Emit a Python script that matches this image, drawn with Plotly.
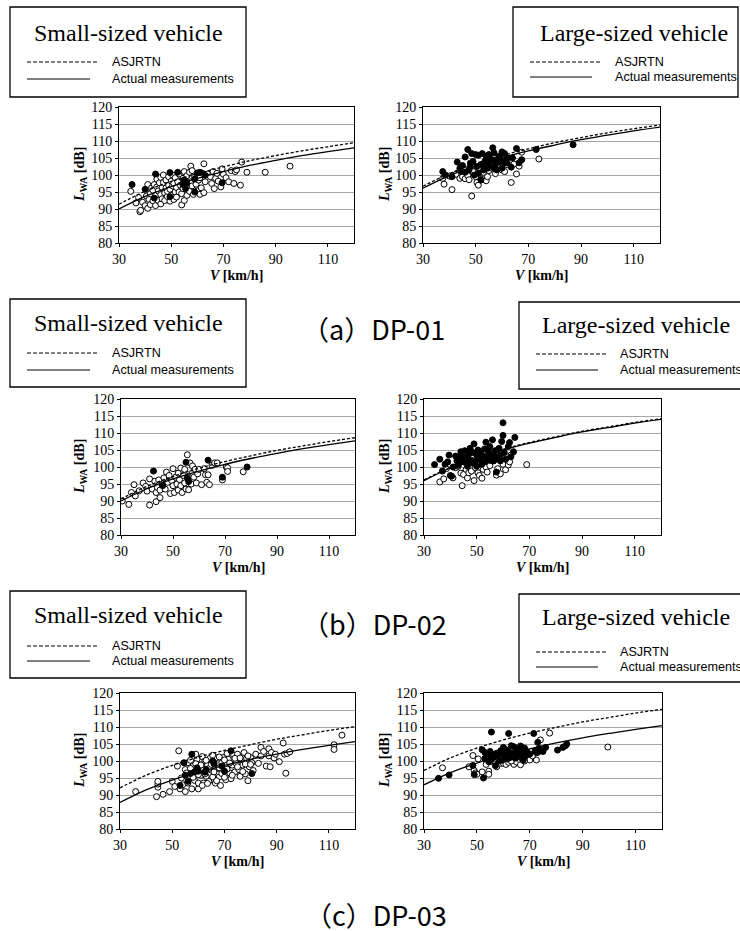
import plotly.graph_objects as go

# ---------------- data ----------------
V_curve = [30, 40, 50, 60, 70, 80, 90, 100, 110, 120]

dp01_small_asj = [91.4, 95.2, 98.1, 100.4, 102.4, 104.2, 105.7, 107.1, 108.3, 109.5]
dp01_small_meas = [90.0, 93.7, 96.6, 99.0, 101.0, 102.8, 104.3, 105.7, 106.9, 108.0]
dp01_large_asj = [96.7, 100.4, 103.4, 105.7, 107.7, 109.5, 111.0, 112.4, 113.6, 114.7]
dp01_large_meas = [96.1, 99.8, 102.7, 105.1, 107.1, 108.8, 110.4, 111.7, 113.0, 114.1]
dp02_small_asj = [90.6, 94.3, 97.2, 99.6, 101.6, 103.3, 104.9, 106.2, 107.5, 108.6]
dp02_small_meas = [90.0, 93.6, 96.5, 98.8, 100.8, 102.5, 104.0, 105.4, 106.6, 107.7]
dp02_large_asj = [96.2, 99.9, 102.8, 105.2, 107.2, 108.9, 110.5, 111.8, 113.1, 114.2]
dp02_large_meas = [96.0, 99.7, 102.6, 105.0, 107.0, 108.7, 110.3, 111.6, 112.9, 114.0]
dp03_small_asj = [92.1, 95.8, 98.7, 101.1, 103.1, 104.8, 106.4, 107.7, 109.0, 110.1]
dp03_small_meas = [87.8, 91.5, 94.4, 96.7, 98.7, 100.5, 102.0, 103.4, 104.6, 105.7]
dp03_large_asj = [97.2, 100.9, 103.8, 106.2, 108.2, 109.9, 111.5, 112.8, 114.1, 115.2]
dp03_large_meas = [93.0, 96.6, 99.4, 101.7, 103.6, 105.3, 106.8, 108.1, 109.3, 110.4]

dp01_small_open = [(34.5,95.2),(36.5,91.8),(37.5,93.4),(38,89.2),(38.3,89.6),(39,92),(40,91),(40.5,93.8),(41,97.2),(41,90.2),
    (41.5,92.8),(42,94.5),(42,91.3),(42.5,96.2),(43,95.5),(43,92.4),(43.5,97.2),(44,91),(44,94),(44.5,96.5),(44.5,98.8),
    (45,92.5),(45,95.3),(45.5,97.7),(46,91.5),(46,94.2),(46,99.3),(46.5,96.3),(46.5,93),(47,97.8),(47,100),(47.5,94.7),
    (47.5,92.5),(48,96.2),(48,98.5),(48.5,93.7),(48.5,95.2),(49,97),(49,99.5),(49.5,92.3),(49.5,95.8),(50,98.2),(50,94),
    (50.5,100),(50.5,96.8),(51,92.8),(51,97.5),(51.5,95),(51.5,99.2),(52,96.3),(52,93.5),(52.5,98),(53,95),(53,100.3),
    (53.5,97),(54,91.2),(54,94.5),(54.5,99),(54.5,96),(55,92.5),(55,101),(55.5,98.2),(56,94),(56,99.8),(56.5,96.5),
    (57,100.8),(57,95.2),(57.5,102.6),(57.5,98),(58,96.8),(58,101.3),(58.5,94.3),(59,99.5),(59.5,97.3),(60,100),(60,95.3),
    (60.5,98.5),(61,94.3),(61,99.2),(61.5,96.2),(62,100.5),(62.5,103.3),(62.5,94.8),(63,98),(64,100.3),(65,99.5),(65.5,97.5),
    (66,101),(66.5,96),(67,99),(67.5,100.5),(68,98.2),(69,96.5),(69.5,101.8),(70,100.2),(71,99.2),(72,98),(73,101.3),
    (74,97.5),(74.5,101),(75,101.5),(76.5,97),(77,103.8),(79,100.8),(86,100.8),(95.5,102.6)]
dp01_small_fill = [(35,97.2),(40,95.8),(43.5,93.2),(44,100.3),(49.5,100.7),(49.5,93.6),(52.5,100.8),(54.5,97.2),(55,98.5),
    (55.5,96),(56,97.6),(59,98.8),(59,95),(60,100.6),(61,100.8),(63,99.9),(69.5,97.7)]

dp01_large_open = [(37.5,99),(38,97.3),(40,99.7),(41,95.7),(42.5,100.2),(44,99),(45,99.5),(46,98.9),(47,99.8),(47.5,98.6),
    (48.5,93.8),(49,101),(50,99.5),(50.5,97.8),(51,97),(51.5,100.5),(52.5,98.7),(53,100.8),(54,98.3),(54.5,99.5),(55,101.3),
    (56,102),(57,104.2),(57.5,100.4),(59,102.8),(60,101.5),(61,101),(61.5,103.3),(62,103),(63.5,97.8),(64.5,103.2),
    (65.5,100.3),(66.5,102.6),(67.5,106.7),(74,104.7)]
dp01_large_fill = [(37.5,101),(38.5,100),(41,99.5),(43,103.8),(44,102),(45,102.8),(46,105.3),(47,107.5),(47.5,101.5),
    (48,103.5),(48.5,106.3),(49,104),(49.5,100),(50,106),(50.5,102.5),(51,105.8),(52,98.5),(52,103),(52.5,106.3),(53,101.5),
    (53.5,104),(54,105.5),(55,103),(55,106),(56,104.5),(56.5,108),(57,102),(57,106.5),(58,104.5),(58,101.5),(59,105.5),
    (60,106.8),(60.5,104),(61,106.3),(62,105),(63.5,102.3),(64,105),(65.5,107.8),(66.5,103.6),(67.5,104.5),(73,107.5),
    (87,108.9),(44.5,101),(46,100.8),(48,102.5),(51,100.5),(53,103.3),(54.5,102),(55.5,104.8),(57.5,103),(59,103.8),
    (60,102),(62,103.5)]

dp02_small_open = [(30.5,90),(33,89),(34,92.5),(35,94.8),(35.5,91.5),(37,93),(38.5,95.3),(39.5,94.3),(40,92.9),(41,88.8),
    (41,96.5),(42,93.5),(43,95.8),(43.5,92.5),(43.5,89.8),(44,94),(44.5,96.2),(45,91),(45,93.2),(46,95),(46.5,96.8),(47,93.5),
    (47.5,98.5),(48,95.5),(48.5,97.5),(49,92.2),(49.5,96),(50,99.5),(50,94.5),(50.5,92.5),(51,97),(51.5,95),(52,98.2),
    (52,93.2),(52.5,96.3),(53,99.7),(53,94.5),(53.5,92.5),(54,97.5),(54.5,95.3),(54.5,99.3),(55,93.5),(55.5,103.6),(56,97.3),
    (56,93.3),(56.5,101.2),(57,95),(57.5,98.3),(57.5,100.3),(58,97),(58.5,99.3),(59,95.3),(59.5,98),(60,99.3),(61,94.8),
    (62,99.5),(62.5,97.7),(63,95.5),(63.5,97.7),(64,94.8),(65,100.5),(66,101.2),(67,101.2),(69,96.2),(70.5,100),(71,99.8),
    (71,98.7),(77,98.6)]
dp02_small_fill = [(42.5,98.8),(46,94.5),(55,101.4),(55.5,96.8),(56,95.7),(63.5,102),(69,97),(78.5,100)]

dp02_large_open = [(36,95.6),(37.5,96.5),(38.5,99.5),(41,96.8),(42,99.8),(43,100.2),(44,98.2),(44.5,94.5),(45,97.8),
    (46,99.3),(46.5,96.8),(47,98.3),(47.5,100),(48,98.8),(49,96),(49.5,99.8),(50.5,98.3),(51,97.5),(52,96.7),(52.5,99.3),
    (53.5,100),(54,98.5),(55,100.4),(56,101.8),(57.5,97.6),(58,99.5),(59,98),(60,100.8),(61,99.2),(62,100.6),(62.5,101.5),
    (63,103.5),(69,100.7)]
dp02_large_fill = [(34,100.7),(36,102.3),(37,98.8),(38,100.8),(39,101.5),(39.5,103.5),(40,97.5),(40.5,97.3),(41,100),
    (42,103.2),(42.5,101.8),(43,100.5),(43.5,102.8),(44,104.5),(44.5,103),(45,101.5),(45.5,104.8),(46,102.8),(46.5,100.2),
    (47,103.8),(47.5,105.5),(48,102),(48.5,104.3),(49,106.8),(49.5,101.5),(50,103.5),(50.5,105),(51,102.3),(51.5,104),
    (52,100.8),(52.5,103.2),(53,105.3),(53.5,107.3),(54,102.5),(54.5,104.5),(55,106),(55.5,103.3),(56,108),(56.5,101.8),
    (57,104.8),(57.5,98.5),(58,102.6),(58.5,105.5),(59,103.5),(59.5,107.5),(60,113),(60,109.3),(60.5,104.2),(61,102.3),
    (62,106),(62.5,107.2),(63,103),(64,104.5),(64.5,108.7),(48,101.2),(50,100.2),(53,101.5),(55,102),(57,103),(59,101.8),
    (46,101.5),(44,102.3)]

dp03_small_open = [(36,91),(44,89.5),(44.5,92.3),(44.5,93.2),(44.5,94),(46.5,90.2),(49,91),(50,94),(51,92.5),(52,98.5),
    (52.5,103),(53,91.8),(53.5,95),(54,93),(55,91),(55,97.5),(56,99.5),(56,93.5),(57,95.5),(57.5,91.8),(58,98.5),(58.5,94.3),
    (59,96.5),(59.5,100.5),(60,91.8),(60,93.5),(60.5,98),(61,95.8),(61.5,101.3),(62,97.5),(62,93.5),(62.5,100),(63,95.5),
    (63.5,98.8),(64,94),(64.5,100.8),(65,97.3),(65.5,95.3),(66,99.5),(66.5,93.5),(67,101),(67.5,97.8),(68,95.3),(68.5,92.8),
    (69,99.5),(69.5,101),(70,97.3),(70.5,94.5),(71,99),(71.5,100.5),(72,96.5),(72.5,94.8),(73,98.8),(73.5,101.8),(74,96.8),
    (74.5,99.3),(75,102),(75.5,97.5),(76,95.5),(76.5,100.3),(77,98.8),(77.5,102.5),(78,96.2),(78.5,100.8),(79,94.2),
    (79.5,98.3),(80,101),(80.5,99.5),(81,97.2),(82,102),(83,99.3),(84,104),(84,101.5),(85,102.8),(86,98.5),(87,101.5),
    (87,103.6),(87.5,98.3),(88,102.5),(89,100.9),(89.5,102),(91,99.8),(92.5,105.3),(93,102),(93.5,96.4),(94,102.2),
    (95,102.7),(112,104.8),(112,103.4),(115,107.6),(55.5,96.5),(57,97.8),(58,95.2),(59,99.2),(60,96),(61,98.8),(62.5,96.2),
    (63,100.2),(64,97.8),(65,99),(66,96.8),(67,94.2),(68,98),(69,96.3),(70,100.3),(71,97.6),(72,99.4),(73,95.8),(74,100.8),
    (75,98.3),(76,100.9),(77,96.9),(78,99.1),(79,101.5),(80,99),(57,100.2),(59,102),(61.5,92.8),(63.5,93.4),(65.5,101.7),
    (68,101.2),(70,95.2),(71,102.2)]
dp03_small_fill = [(53,92.8),(54.5,99.5),(55,95.8),(56,94),(57,96.3),(57.5,102),(58.5,96.8),(59.5,98),(60,97),(62.5,96.7),
    (63,97.5),(65.5,100),(66,99.2),(69,98.5),(70,97),(72.5,103),(80.5,96.3)]

dp03_large_open = [(37,98),(47,98.3),(48.5,101.6),(49,97.2),(49.5,96.5),(50,96.1),(50.5,100.6),(52,96.8),(53.5,99),
    (54.5,97),(54.5,96.1),(55,99.8),(57.5,98.3),(58,100.2),(59,99.3),(60,99.3),(60.5,100),(61,99),(62,99.6),(63,100.8),
    (64,99),(65,99.7),(66.5,100.2),(66.5,98.9),(67,100.8),(70,101),(70,100.3),(72.5,100.3),(73,102.5),(74,106.2),
    (77.5,108.2),(99.5,104.1),(68,100),(71,101.5),(63,100)]
dp03_large_fill = [(35.5,94.9),(39.5,95.9),(48.5,98.7),(49,96),(52.5,95),(52,103.3),(53,102.5),(53,100.7),(54,101.5),
    (54.5,99.8),(55,102.8),(55.5,108.5),(55.5,100.5),(56,102),(57,98.6),(57.5,102.3),(58,101.8),(59,103),(59.5,102.1),
    (60,104),(60.5,101.5),(61,103.3),(61.5,100.6),(62,108.1),(62,102.8),(62.5,101),(63,104.5),(63.5,102.2),(64,104.2),
    (64.5,100.8),(65,102.7),(65.5,101.3),(66,103.5),(66.5,104.4),(67,102.5),(67.5,100.2),(68,103.8),(69,102.7),(70,102),
    (71.5,108.1),(72,103),(72.5,102.5),(73,105.5),(73.5,103.7),(74,103),(75,102.8),(76,104),(80.5,103.2),(82.5,104),
    (83.5,104.5),(84,105),(56.5,101.2),(58.5,100),(60,100.5),(64,101.5),(66,101.8),(68,101.2)]

x_ticks = [30, 50, 70, 90, 110]
y_ticks = [80, 85, 90, 95, 100, 105, 110, 115, 120]
box_titles = ["Small-sized vehicle", "Large-sized vehicle"]
legend_labels = ["ASJRTN", "Actual measurements"]
panel_labels = ["（a）DP-01", "（b）DP-02", "（c）DP-03"]

# ---------------- layout helpers ----------------
W, H = 740, 931
def fx(px): return px / W
def fy(py): return 1 - py / H

panels = [
    dict(box=(119, 354, 107, 243), open=dp01_small_open, fill=dp01_small_fill, asj=dp01_small_asj, meas=dp01_small_meas),
    dict(box=(423, 660, 107, 243), open=dp01_large_open, fill=dp01_large_fill, asj=dp01_large_asj, meas=dp01_large_meas),
    dict(box=(121, 355, 399, 535), open=dp02_small_open, fill=dp02_small_fill, asj=dp02_small_asj, meas=dp02_small_meas),
    dict(box=(424, 661, 399, 535), open=dp02_large_open, fill=dp02_large_fill, asj=dp02_large_asj, meas=dp02_large_meas),
    dict(box=(120, 355, 693, 829), open=dp03_small_open, fill=dp03_small_fill, asj=dp03_small_asj, meas=dp03_small_meas),
    dict(box=(424, 662, 693, 829), open=dp03_large_open, fill=dp03_large_fill, asj=dp03_large_asj, meas=dp03_large_meas),
]

fig = go.Figure()
SERIF = "Liberation Serif, Times New Roman, serif"
SANS = "Liberation Sans, Arial, sans-serif"
annotations = []
shapes = []

def ann(px, py, text, size, family, xanchor="center", angle=0):
    annotations.append(dict(x=fx(px), y=fy(py), xref="paper", yref="paper", text=text, showarrow=False,
                            xanchor=xanchor, yanchor="middle", textangle=angle,
                            font=dict(family=family, size=size, color="black")))

for i, p in enumerate(panels):
    n = "" if i == 0 else str(i + 1)
    xa, ya = "x" + n, "y" + n
    x0, x1, y0, y1 = p["box"]
    fig.add_trace(go.Scatter(x=[a for a, b in p["open"]], y=[b for a, b in p["open"]], mode="markers",
                             xaxis=xa, yaxis=ya, showlegend=False,
                             marker=dict(size=6, color="white", line=dict(color="black", width=1))))
    fig.add_trace(go.Scatter(x=[a for a, b in p["fill"]], y=[b for a, b in p["fill"]], mode="markers",
                             xaxis=xa, yaxis=ya, showlegend=False,
                             marker=dict(size=6, color="black", line=dict(color="black", width=1))))
    fig.add_trace(go.Scatter(x=V_curve, y=p["asj"], mode="lines", line_shape="spline", xaxis=xa, yaxis=ya,
                             showlegend=False, line=dict(color="black", width=1.3, dash="3px,2px")))
    fig.add_trace(go.Scatter(x=V_curve, y=p["meas"], mode="lines", line_shape="spline", xaxis=xa, yaxis=ya,
                             showlegend=False, line=dict(color="black", width=1.3)))
    common = dict(showline=True, linecolor="black", linewidth=1, mirror=True, ticks="outside", ticklen=3,
                  tickcolor="black", tickfont=dict(family=SERIF, size=14, color="black"), zeroline=False,
                  automargin=False, fixedrange=True)
    fig.layout["xaxis" + n] = dict(domain=[fx(x0), fx(x1)], anchor=ya, range=[30, 120], tickvals=x_ticks,
                                    showgrid=False, **common)
    fig.layout["yaxis" + n] = dict(domain=[fy(y1), fy(y0)], anchor=xa, range=[80, 120], tickvals=y_ticks,
                                    showgrid=True, gridcolor="#a6a6a6", gridwidth=1, **common)
    ytx = 80 if i % 2 == 0 else 385
    ann(ytx, (y0 + y1) / 2, "<b><i>L</i><sub>WA</sub> [dB]</b>", 14, SERIF, angle=-90)
    ann((x0 + x1) / 2, y1 + 32, "<b><i>V</i> [km/h]</b>", 14, SERIF)

# legend boxes: (left, right, top, bottom, title_cx, title_cy, line_x0, dash_x1, solid_x1, dash_y, solid_y, text_x, title)
boxes = [
    (10, 246, 7, 97, 128, 33, 27, 97, 90, 62, 79, 110, box_titles[0]),
    (513, 738, 7, 97, 634, 33, 530, 600, 592, 62, 77, 613, box_titles[1]),
    (10, 246, 299, 387, 128, 323, 27, 97, 90, 353, 370, 110, box_titles[0]),
    (519, 748, 302, 389, 636, 325, 536, 606, 598, 354, 370, 618, box_titles[1]),
    (10, 246, 591, 678, 128, 615, 27, 97, 90, 646, 661, 110, box_titles[0]),
    (519, 748, 594, 682, 636, 617, 536, 606, 598, 652, 667, 618, box_titles[1]),
]
for (l, r, t, b, tcx, tcy, lx0, dx1, sx1, dy, sy, tx, title) in boxes:
    shapes.append(dict(type="rect", xref="paper", yref="paper", x0=fx(l), x1=fx(r), y0=fy(b), y1=fy(t),
                       line=dict(color="black", width=1.3), fillcolor="white", layer="below"))
    shapes.append(dict(type="line", xref="paper", yref="paper", x0=fx(lx0), x1=fx(dx1), y0=fy(dy), y1=fy(dy),
                       line=dict(color="black", width=1, dash="4px,2px")))
    shapes.append(dict(type="line", xref="paper", yref="paper", x0=fx(lx0), x1=fx(sx1), y0=fy(sy), y1=fy(sy),
                       line=dict(color="black", width=1)))
    ann(tcx, tcy, title, 24, SERIF)
    ann(tx, dy, legend_labels[0], 12.6, SANS, xanchor="left")
    ann(tx, sy, legend_labels[1], 12.6, SANS, xanchor="left")

for lab, (lx, ly) in zip(panel_labels, [(300, 328), (300, 623), (303, 914)]):
    ann(lx, ly, lab, 27, "Noto Sans CJK JP", xanchor="left")

fig.update_layout(width=W, height=H, margin=dict(l=0, r=0, t=0, b=0, autoexpand=False), paper_bgcolor="white",
                  plot_bgcolor="white", annotations=annotations, shapes=shapes, showlegend=False)
fig.write_html("out.html", config={"responsive": False, "displayModeBar": False},
               post_script="document.body.style.margin='0';document.body.style.overflow='hidden';")
